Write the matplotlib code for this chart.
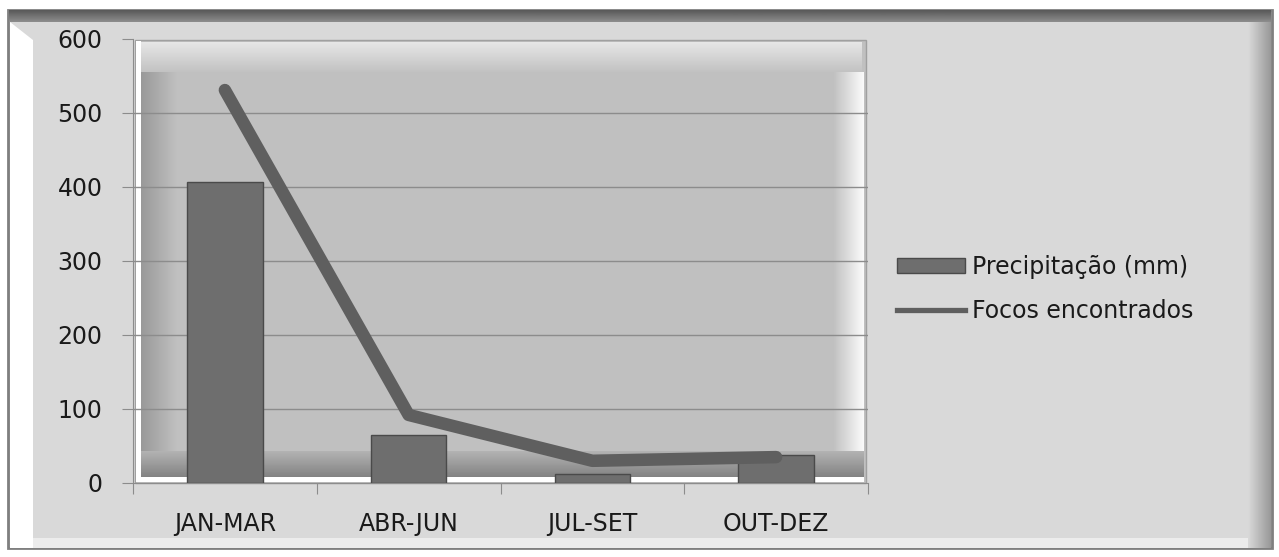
import matplotlib.pyplot as plt
import matplotlib.patches as mpatches
from matplotlib.lines import Line2D
import numpy as np

categories = ["JAN-MAR", "ABR-JUN", "JUL-SET", "OUT-DEZ"]
precipitacao = [407, 65, 12, 38]
focos = [531, 92, 30, 35]
yticks = [0, 100, 200, 300, 400, 500, 600]

W, H = 1279, 557
fig = plt.figure(figsize=(W / 100, H / 100), dpi=100)
fig.patch.set_facecolor("white")

# outer frame, drawn in pixel units
bg = fig.add_axes([0, 0, 1, 1], zorder=0)
bg.set_xlim(0, W)
bg.set_ylim(H, 0)
bg.axis("off")
bg.add_patch(mpatches.Rectangle((8, 10), 1264, 538, facecolor="#d9d9d9",
                                edgecolor="#7f7f7f", lw=2))
grad = np.linspace(0.35, 0.55, 20).reshape(-1, 1)
bg.imshow(grad, extent=(9, 1271, 22, 10), cmap="gray", vmin=0, vmax=1,
          aspect="auto", zorder=2)
bg.add_patch(mpatches.Polygon([(10, 22), (33, 40), (33, 548), (10, 548)],
                              facecolor="white", edgecolor="none", zorder=2))
rgrad = np.linspace(0.85, 0.6, 30).reshape(1, -1)
bg.imshow(rgrad, extent=(1248, 1271, 548, 22), cmap="gray", vmin=0, vmax=1,
          aspect="auto", zorder=2)
bg.add_patch(mpatches.Rectangle((33, 538), 1215, 10, facecolor="#ececec",
                                edgecolor="none", zorder=2))

# plot-area bevel
x0, x1, y0, y1 = 135, 866, 40, 483
bg.add_patch(mpatches.Rectangle((x0, y0), x1 - x0, y1 - y0,
                                facecolor="#c0c0c0", edgecolor="#a0a0a0",
                                lw=1, zorder=1))
bg.add_patch(mpatches.Rectangle((x0 + 1, y0 + 1), 5, y1 - y0 - 2,
                                facecolor="white", edgecolor="none", zorder=1.4))
lg = np.linspace(0.6, 0.75, 40).reshape(1, -1)
bg.imshow(lg, extent=(x0 + 6, x0 + 42, y1 - 10, y0 + 6), cmap="gray",
          vmin=0, vmax=1, aspect="auto", zorder=1.5)
tg = np.linspace(0.9, 0.76, 30).reshape(-1, 1)
bg.imshow(tg, extent=(x0 + 6, x1 - 4, y0 + 32, y0 + 2), cmap="gray",
          vmin=0, vmax=1, aspect="auto", zorder=1.6)
rg = np.linspace(0.76, 0.98, 30).reshape(1, -1)
bg.imshow(rg, extent=(x1 - 32, x1 - 2, y1 - 10, y0 + 32), cmap="gray",
          vmin=0, vmax=1, aspect="auto", zorder=1.6)
fg = np.linspace(0.7, 0.5, 30).reshape(-1, 1)
bg.imshow(fg, extent=(x0 + 6, x1 - 2, y1 - 4, y1 - 32), cmap="gray",
          vmin=0, vmax=1, aspect="auto", zorder=1.7)
bg.add_patch(mpatches.Rectangle((x0 + 6, y1 - 6), x1 - x0 - 8, 5,
                                facecolor="white", edgecolor="none", zorder=1.8))

# chart axes
ax = fig.add_axes([133 / W, 1 - 483 / H, (868 - 133) / W, (483 - 39) / H],
                  zorder=2)
ax.patch.set_alpha(0)
x = np.arange(len(categories))
ax.set_xlim(-0.5, len(categories) - 0.5)
ax.set_ylim(0, 600)
for t in yticks[1:-1]:
    ax.axhline(t, color="#8c8c8c", lw=1, zorder=1)

ax.bar(x, precipitacao, width=0.41, color="#6e6e6e",
       edgecolor="#4a4a4a", lw=1, zorder=3)
ax.plot(x, focos, color="#5f5f5f", lw=9, solid_capstyle="round",
        solid_joinstyle="round", zorder=4)

ax.set_yticks(yticks)
ax.set_yticklabels([str(v) for v in yticks], fontsize=17,
                   family="DejaVu Sans", color="#1a1a1a")
ax.set_xticks(np.arange(-0.5, len(categories), 1))
ax.set_xticklabels([])
ax.set_xticks(x, minor=True)
ax.set_xticklabels(categories, minor=True, fontsize=17, family="DejaVu Sans",
                   color="#1a1a1a")
ax.tick_params(axis="x", which="major", length=8, color="#8c8c8c")
ax.tick_params(axis="x", which="minor", length=0, pad=21)
ax.tick_params(axis="y", length=8, color="#8c8c8c", pad=14)
for s in ["top", "right"]:
    ax.spines[s].set_visible(False)
ax.spines["left"].set_color("#8c8c8c")
ax.spines["bottom"].set_color("#8c8c8c")

handles = [mpatches.Patch(facecolor="#6e6e6e", edgecolor="#4a4a4a"),
           Line2D([], [], color="#5f5f5f", lw=3.8)]
leg = ax.legend(handles, ["Precipitação (mm)", "Focos encontrados"],
                loc="center left", bbox_to_anchor=(1.039, 0.437), frameon=False,
                borderpad=0, borderaxespad=0,
                prop={"family": "DejaVu Sans", "size": 17}, handlelength=2.9,
                handleheight=0.55, handletextpad=0.3, labelspacing=0.85)
for t in leg.get_texts():
    t.set_color("#1a1a1a")

fig.savefig("out.png", dpi=100)
